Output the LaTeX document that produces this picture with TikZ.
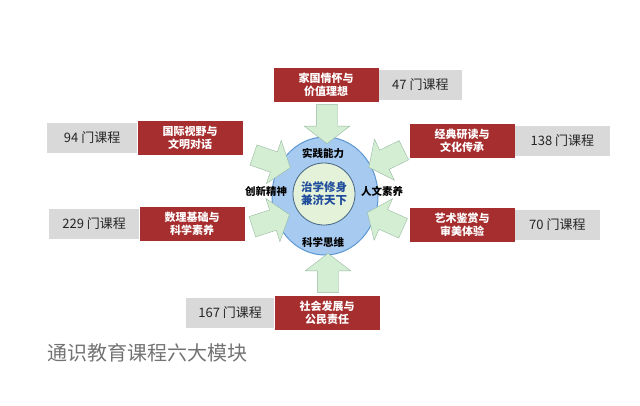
\documentclass[tikz,border=0pt]{standalone}
\usepackage{fontspec}
\setmainfont{Noto Sans CJK SC}
\usetikzlibrary{shapes.geometric,shapes.arrows,positioning}

\definecolor{moduleRed}{RGB}{166,46,46}
\definecolor{countGray}{RGB}{217,217,217}
\definecolor{ringBlue}{RGB}{166,202,240}
\definecolor{ringEdge}{RGB}{91,150,210}
\definecolor{coreGreen}{RGB}{228,242,218}
\definecolor{coreEdge}{RGB}{70,100,130}
\definecolor{pushFill}{RGB}{212,238,212}
\definecolor{pushEdge}{RGB}{150,185,160}
\definecolor{mottoBlue}{RGB}{30,75,155}

\begin{document}
\begin{tikzpicture}
  [x=1pt,y=-1pt,
   moduleN/.style={fill=moduleRed,text=white,align=center,inner sep=0pt,
     minimum width=105pt,minimum height=34pt,
     font=\fontsize{11}{13}\selectfont\bfseries},
   countN/.style={fill=countGray,text=black!85,inner sep=0pt,
     minimum width=88pt,minimum height=30pt,
     font=\fontsize{13}{15}\selectfont},
   pushN/.style={single arrow,draw=pushEdge,fill=pushFill,
     inner xsep=0pt,inner ysep=10.5pt,
     minimum height=39pt,
     single arrow head extend=12pt,single arrow tip angle=105},
   ringT/.style={font=\fontsize{10.5}{12}\selectfont\bfseries},
   node distance=0pt]

  \useasboundingbox (0,0) rectangle (640,405);

  % centre rings
  \node[ellipse,draw=ringEdge,fill=ringBlue,line width=1pt,
        minimum width=106pt,minimum height=118pt] (ring) at (325,196) {};
  \node[circle,draw=coreEdge,fill=coreGreen,line width=0.8pt,
        minimum size=62pt,text=mottoBlue,align=center,
        font=\fontsize{11.5}{13}\selectfont\bfseries] (core) at (324,194)
        {治学修身\\兼济天下};

  \node[ringT] (shijian) at (323,153) {实践能力};
  \node[ringT] (kexue)   at (323,242) {科学思维};
  \node[ringT] (chuangxin) at (266,191) {创新精神};
  \node[ringT] (renwen)  at (382,191) {人文素养};

  % arrows
  \node[pushN,rotate=-90] (pTop)  at (327,120) {};
  \node[pushN,rotate=90]  (pBot)  at (328,277) {};
  \node[pushN,rotate=-19] (pUL)   at (268,160) {};
  \node[pushN,rotate=18]  (pLL)   at (267,222) {};
  \node[pushN,rotate=206] (pUR)   at (390,157) {};
  \node[pushN,rotate=156] (pLR)   at (389,222) {};

  % modules
  \node[moduleN] (jiaguo)   at (326,85)  {家国情怀与\\价值理想};
  \node[countN,minimum width=83pt] (c47) [right=of jiaguo] {47 门课程};

  \node[moduleN] (guoji)    at (190,138) {国际视野与\\文明对话};
  \node[countN,minimum width=90pt] (c94) [left=of guoji] {94 门课程};

  \node[moduleN] (shuli)    at (192,224) {数理基础与\\科学素养};
  \node[countN,minimum width=90pt] (c229) [left=of shuli] {229 门课程};

  \node[moduleN] (jingdian) at (462,141) {经典研读与\\文化传承};
  \node[countN,minimum width=95pt] (c138) [right=of jingdian] {138 门课程};

  \node[moduleN] (yishu)    at (462,225) {艺术鉴赏与\\审美体验};
  \node[countN,minimum width=85pt] (c70) [right=of yishu] {70 门课程};

  \node[moduleN] (shehui)   at (327,313) {社会发展与\\公民责任};
  \node[countN] (c167) [left=of shehui] {167 门课程};

  \node[anchor=west,text=black!55,font=\fontsize{20}{22}\selectfont]
       (title) at (44,353) {通识教育课程六大模块};

\end{tikzpicture}
\end{document}
